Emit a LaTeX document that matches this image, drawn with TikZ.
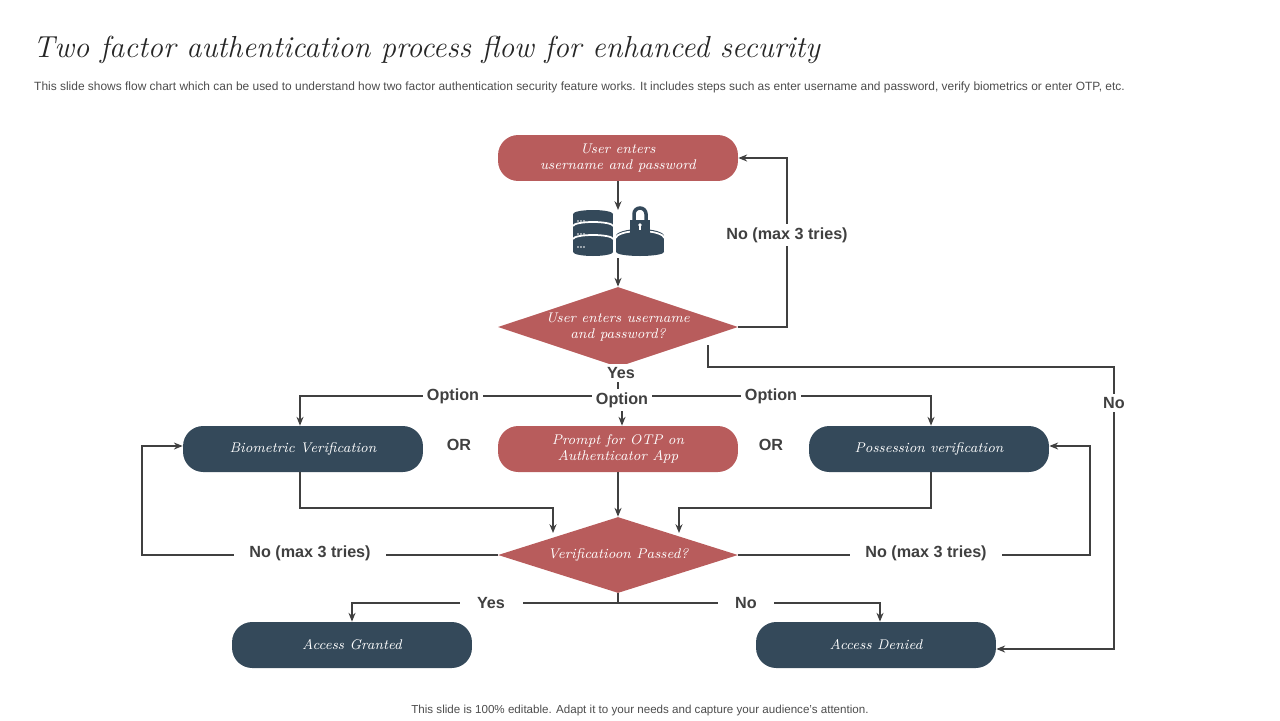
\documentclass[tikz,border=0pt]{standalone}
\usepackage{fontspec}
\setmainfont{Liberation Sans}
\newfontfamily\nodefont{Latin Modern Roman}
\usetikzlibrary{arrows.meta,shapes.geometric}
\definecolor{redb}{HTML}{B85C5C}
\definecolor{dark}{HTML}{34495A}
\definecolor{ln}{HTML}{404040}
\begin{document}
\begin{tikzpicture}[x=0.02cm,y=-0.02cm,
  box/.style={rounded corners=11.5pt,minimum width=4.8cm,minimum height=0.92cm,text=white,align=center,font=\nodefont\itshape\footnotesize,inner sep=1pt},
  dia/.style={diamond,aspect=3,fill=redb,text=white,align=center,font=\nodefont\itshape\footnotesize,minimum width=4.8cm,minimum height=1.6cm,inner sep=-6pt},
  lbl/.style={fill=white,font=\bfseries\fontsize{9.2}{11}\selectfont,text=ln,inner sep=2pt},
  con/.style={draw=ln,line width=0.8pt},
  arr/.style={con,-{Stealth[length=5pt,width=4pt]}}]
\useasboundingbox (0,0) rectangle (1280,720);
\node[anchor=west,font=\nodefont\itshape\fontsize{17.3}{20}\selectfont,text=black!85] (title) at (27,50) {Two factor authentication process flow for enhanced security};
\node[anchor=west,font=\fontsize{6.8}{8}\selectfont,text=black!70] (sub) at (28,87) {This slide shows flow chart which can be used to understand how two factor authentication security feature works. It includes steps such as enter username and password, verify biometrics or enter OTP, etc.};
\node[font=\fontsize{6.6}{8}\selectfont,text=black!70] (foot) at (640,710) {This slide is 100\% editable. Adapt it to your needs and capture your audience's attention.};

\node[box,fill=redb] (n1) at (618,158) {User enters\\username and password};
\node[dia] (d1) at (618,327) {User enters username\\and password?};
\node[box,fill=redb] (otp) at (618,449) {Prompt for OTP on\\Authenticator App};
\node[box,fill=dark] (bio) at (303,449) {Biometric Verification};
\node[box,fill=dark] (pos) at (929,449) {Possession verification};
\node[dia,minimum height=1.52cm] (d2) at (618,555) {Verificatioon Passed?};
\node[box,fill=dark] (ag) at (352,645) {Access Granted};
\node[box,fill=dark] (ad) at (876,645) {Access Denied};

% icon
\coordinate (icT) at (618,210);
\coordinate (icB) at (618,258);
\begin{scope}[fill=dark]
 \fill (573,214) rectangle (613,252);
 \fill (593,214) ellipse [x radius=20,y radius=4];
 \fill (593,252) ellipse [x radius=20,y radius=4];
 \draw[white,line width=1pt] (573,226) arc[start angle=180,end angle=360,x radius=20,y radius=4];
 \draw[white,line width=1pt] (573,239) arc[start angle=180,end angle=360,x radius=20,y radius=4];
 \foreach \yy in {221,234,247}{\fill[white] (578,\yy) circle (0.8) (581,\yy) circle (0.8) (584,\yy) circle (0.8);}
 \fill (616,236) rectangle (664,252);
 \fill (640,252) ellipse [x radius=24,y radius=4];
 \fill (640,236) ellipse [x radius=24,y radius=7];
 \draw[white,line width=1pt] (616,238) arc[start angle=180,end angle=360,x radius=24,y radius=7];
 \draw[dark,line width=2pt] (634,221) -- (634,214) arc[start angle=180,end angle=360,radius=6] -- (646,221);
 \fill (630,220) rectangle (650,234);
 \fill[white] (640,225) circle (1.8); \fill[white] (639.3,226) rectangle (640.7,230);
\end{scope}

\draw[arr] (n1) -- (icT);
\draw[arr] (icB) -- (d1);
\draw[arr] (d1.east) -- (787,327) -- (787,158) -- (n1.east);
\node[lbl] (l1) at (787,235) {No (max 3 tries)};
\coordinate (d1n) at (708,345);
\draw[arr] (d1n) -- (708,367) -- (1114,367) -- (1114,649) -- (ad.east |- 0,649);
\node[lbl] (l2) at (1114,403) {No};
\draw[con] (d1.south) -- (618,396);
\node[lbl] (yes1) at (621,373) {Yes};
\draw[arr] (618,396) -- (300,396) -- (bio.north -| 300,0);
\draw[arr] (618,396) -- (931,396) -- (pos.north -| 931,0);
\draw[arr] (622,396) -- (otp.north -| 622,0);
\node[lbl] (o1) at (453,396) {Option};
\node[lbl] (o2) at (622,400) {Option};
\node[lbl] (o3) at (771,396) {Option};
\node[lbl] (or1) at (459,445) {OR};
\node[lbl] (or2) at (771,445) {OR};
\draw[arr] (bio.south -| 300,0) -- (300,508) -- (553,508) -- (553,533);
\draw[arr] (pos.south -| 931,0) -- (931,508) -- (679,508) -- (679,533);
\draw[arr] (otp) -- (d2);
\draw[arr] (d2.west) -- (142,555) -- (142,446) -- (bio.west |- 0,446);
\draw[arr] (d2.east) -- (1090,555) -- (1090,446) -- (pos.east |- 0,446);
\node[lbl,inner xsep=9pt] (l3) at (310,553) {No (max 3 tries)};
\node[lbl,inner xsep=9pt] (l4) at (926,553) {No (max 3 tries)};
\draw[con] (d2.south) -- (618,603);
\draw[arr] (618,603) -- (352,603) -- (ag.north -| 352,0);
\draw[arr] (618,603) -- (880,603) -- (ad.north -| 880,0);
\node[lbl,inner xsep=10pt] (y2) at (491,603) {Yes};
\node[lbl,inner xsep=10pt] (n2) at (746,603) {No};
\end{tikzpicture}
\end{document}
